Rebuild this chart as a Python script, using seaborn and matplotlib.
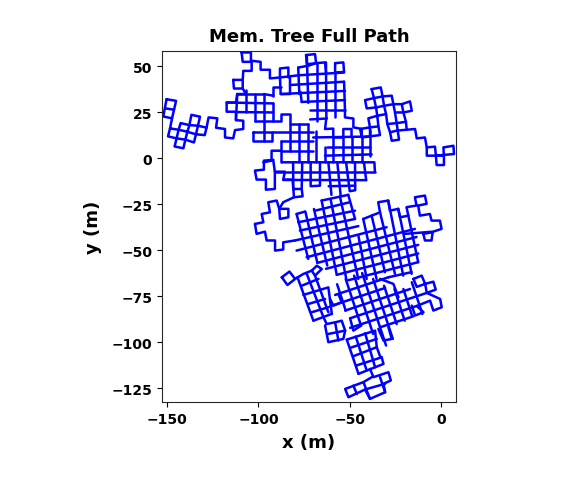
import matplotlib
matplotlib.use("Agg")
import matplotlib.pyplot as plt
import pandas as pd
import seaborn as sns

# path, each inner list is one stroke (x m, y m)
tail_path = [
    [(-150.3, 32), (-145.1, 31.1), (-147.3, 21.6), (-152.1, 22.6), (-150.3, 32)],
    [(-151, 27), (-146.2, 26.3)],
    [(-147.3, 21.6), (-148.4, 16.1), (-149.5, 11.8), (-144.8, 10.7), (-143.7, 15.4), (-148.4, 16.1)],
    [(-144.8, 10.7), (-145.9, 6.3), (-141.1, 5.3), (-140, 10), (-144.8, 10.7)],
    [(-140, 10), (-138.9, 14.3), (-143.7, 15.4), (-142.6, 19), (-137.8, 17.9), (-138.9, 14.3),
     (-134.2, 12.9), (-135.3, 8.5), (-140, 10)],
    [(-134.2, 12.9), (-133.1, 17.6), (-137.8, 17.9), (-136.7, 23.5), (-132, 22.5), (-133.1, 17.6),
     (-128.4, 16.5), (-129.4, 12.5), (-134.2, 12.9)],
    [(-128.4, 16.5), (-127.3, 22.1), (-122.5, 21.6), (-123.2, 16.5), (-118.3, 15.8), (-118.3, 11.2),
     (-113.8, 10.7), (-112.8, 15.2), (-108.3, 15.8), (-108.3, 20.3), (-112.3, 20.6), (-112.3, 25.2),
     (-117.4, 25.2), (-117.4, 30.2), (-112.3, 30.2), (-111.6, 34.8), (-106.8, 34.8)],
]

upper_branch = [
    [(-113.8, 42.5), (-108.6, 42.5), (-108.6, 37.8), (-113.4, 37.8), (-113.8, 42.5)],
    [(-108.6, 37.8), (-106.8, 34.8)],
    [(-108.6, 42.5), (-108.3, 47.4), (-103.7, 47.4), (-103.7, 52.9), (-98.8, 52.3), (-98.8, 48),
     (-93.7, 48), (-93.7, 43.3), (-88.2, 43.8)],
    [(-109.2, 57.4), (-104.1, 57.4), (-104.1, 52.3), (-108.6, 52.3), (-109.2, 57.4)],
    [(-91.9, 33.9), (-91.9, 38.9), (-87.8, 38.9)],
    [(-88.2, 43.8), (-88.2, 48.7), (-83.6, 49.2), (-83.6, 43.8)],
    [(-88.2, 43.8), (-87.8, 34.8), (-82.7, 34.8), (-82.7, 44)],
    [(-78.2, 49.2), (-72.7, 50.2), (-68.4, 51.6), (-63.5, 52), (-63, 46.5)],
    [(-78.2, 49.2), (-77.6, 34.8)],
    [(-97, 34.8), (-91.9, 33.9)],
]

block_a = [
    [(-111.6, 34.8), (-97, 34.8)],
    [(-117.4, 30.2), (-91.9, 29.7)],
    [(-112.3, 25), (-91.9, 24.8)],
    [(-111.6, 34.8), (-112.3, 20.6)],
    [(-106.8, 37), (-106.8, 24.8)],
    [(-101.9, 34.8), (-101.9, 20.3)],
    [(-97, 34.8), (-97, 9.4)],
    [(-91.9, 29.7), (-91.9, 20.3)],
    [(-101.9, 20.3), (-87.8, 20.3), (-87.8, 24), (-82.7, 24), (-82.7, 4)],
    [(-102.8, 14), (-92.8, 14), (-92.8, 9.4), (-102.8, 9.4), (-102.8, 14)],
    [(-82.7, 18.5), (-72.7, 18.5)],
    [(-92.8, 14), (-70, 14)],
    [(-87.8, 9.4), (-70, 9.4)],
    [(-77.6, 18.5), (-77.6, -2.3)],
    [(-72.7, 18.5), (-72.7, -2.3)],
    [(-87.8, 4), (-70, 4)],
    [(-87.8, 9.4), (-87.8, -2.3)],
    [(-97.3, -2.3), (-92.8, -1.4), (-92.8, 4), (-87.8, 4)],
]

block_b = [
    [(-73.9, 56), (-69, 56.5), (-68.4, 51.6), (-73.5, 51), (-73.9, 56)],
    [(-58, 51.6), (-53.5, 52), (-53.1, 46.8), (-58, 46.5), (-58, 51.6)],
    [(-88.2, 43.8), (-78, 45), (-53.1, 46.5)],
    [(-82.7, 39.7), (-53.1, 41.5)],
    [(-87.8, 34.8), (-52.6, 36.5)],
    [(-76.3, 30.5), (-52.6, 31.5)],
    [(-71.7, 26), (-52.6, 26)],
    [(-71.7, 21), (-62.5, 21.5)],
    [(-73.5, 56), (-72.7, 30)],
    [(-68, 51.6), (-68, 20.3)],
    [(-63, 52), (-62.8, 22)],
    [(-58, 46.5), (-58, 22.1)],
    [(-53.1, 41.5), (-52.6, 26)],
    [(-76.3, 30.5), (-77, 36)],
    [(-52.6, 26), (-52.6, 22.1), (-48, 21.5), (-48, 16.7), (-43.4, 15.8), (-43.4, 11.2)],
    [(-62.8, 22), (-63.5, 15.8), (-59, 16), (-59, 11.2), (-53.5, 11.2), (-53.5, 15.8), (-49, 15.8), (-49, 11.2)],
    [(-70, 11.2), (-38.9, 11.7)],
    [(-62.5, 5.8), (-38.9, 5.8)],
    [(-63.5, 1.3), (-38, 2)],
    [(-59, 11.2), (-59, -2.3)],
    [(-53.5, 11.2), (-53.5, -2.3)],
    [(-49, 11.2), (-49, -2.3)],
    [(-43.4, 11.2), (-43.4, -2.3)],
    [(-38.9, 15), (-38.9, 1.3)],
    [(-68.4, 14.5), (-68.4, -2.3)],
    [(-63.5, 6), (-63.5, -2.3)],
]

right_branch = [
    [(-38, 37.5), (-33, 38.4), (-32, 33.5), (-36.7, 32.6), (-38, 37.5)],
    [(-36.7, 32.6), (-41.6, 31.5), (-40.7, 27), (-35.6, 27.5), (-36.7, 32.6)],
    [(-32, 33.5), (-27, 33.9), (-26.1, 29.3), (-21.5, 29.3), (-20.6, 24.8), (-16, 25.7), (-17, 30.8), (-21.5, 29.3)],
    [(-35.6, 27.5), (-34.9, 23), (-30.1, 23.9), (-31.2, 28.4), (-35.6, 27.5)],
    [(-32, 33.5), (-31.2, 28.4), (-26.1, 29.3), (-25.2, 24.8), (-20.6, 24.8), (-19.2, 19.7), (-18.8, 15.4),
     (-14.2, 15.8), (-13.3, 10.7), (-8.8, 11.2), (-7.8, 5.8), (-3.3, 6.2), (-2.8, 1.3), (1.6, 1.3), (1.3, 5.8),
     (6.8, 6.7), (7.1, 2.2), (-2.8, 1.3)],
    [(-7.8, 5.8), (-7.8, 1.3), (-2.8, 1.3), (-2.4, -3.8), (1.6, -3.8), (1.6, 1.3)],
    [(-34.9, 23), (-39.8, 21.6), (-38.9, 16.7), (-34.3, 17.2), (-34.9, 23)],
    [(-38.9, 16.7), (-44.3, 15.8), (-43.4, 11.2), (-38.9, 11.8), (-38.9, 16.7)],
    [(-34.3, 17.2), (-33.4, 12.5), (-38.9, 11.8)],
    [(-30.1, 23.9), (-29.4, 18.5), (-24.3, 19), (-25.2, 24.8)],
    [(-29.4, 18.5), (-27.9, 14), (-27, 9.4), (-23, 10), (-24.3, 19), (-19.2, 19.7)],
    [(-24.3, 14.9), (-18.8, 15.4)],
    [(-27.9, 14), (-24.3, 14.9)],
]

middle_band = [
    [(-91.9, -1), (-97, -1.4), (-97, -6.3), (-101.9, -6.8), (-101, -11.7), (-95.9, -11.7), (-95.9, -17.2),
     (-91, -16.8), (-91, -7.4), (-85.5, -7.4), (-86.4, -11.7), (-81.3, -11.7), (-80.9, -16.8), (-80.5, -21.3),
     (-75.8, -20.8), (-76.3, -16.8), (-80.9, -16.8)],
    [(-91.9, -1), (-91, -7.4)],
    [(-87, -2.3), (-36.5, -2.3), (-36.2, -7.4)],
    [(-91, -7.4), (-36.2, -7.4)],
    [(-86.4, -11.9), (-41, -12)],
    [(-81, -2.3), (-80.9, -16.8)],
    [(-76, -2.3), (-76.3, -16.8)],
    [(-71.4, -2.3), (-71.4, -15.3), (-66.3, -15), (-66.3, -2.3)],
    [(-61.7, -2.3), (-60, -20)],
    [(-56.8, -2.3), (-55, -20)],
    [(-52, -2.3), (-50, -18), (-47, -17.5), (-47.1, -2.3)],
    [(-42.2, -2.3), (-41, -12)],
    [(-61.5, -15.3), (-47, -15)],
]

lower_rows = [
    [(-65.4, -23.1), (-50.8, -20)],
    [(-69, -28.6), (-49.9, -24)],
    [(-79.1, -30.4), (-74.5, -29.1)],
    [(-78.2, -34.9), (-47.1, -28.6)],
    [(-77.3, -39.4), (-47.1, -33.1)],
    [(-80, -44.8), (-45.3, -37)],
    [(-79.1, -50.3), (-29.8, -37.6)],
    [(-73.6, -53.9), (-14.3, -38.5)],
    [(-67.8, -57), (-13.4, -42.9)],
    [(-63, -60.2), (-12.5, -47.2)],
    [(-57.2, -63.5), (-12.5, -51.9)],
    [(-50.8, -66.4), (-12.5, -56.6)],
    [(-28.8, -64.8), (-16.1, -62)],
]

lower_cols = [
    [(-79.1, -30.4), (-72.7, -54.8)],
    [(-74.3, -29.1), (-67.8, -56.6)],
    [(-69.6, -27.7), (-62.3, -58.4)],
    [(-65.4, -23.1), (-57.2, -62.9)],
    [(-60.5, -22.2), (-51.7, -66.6)],
    [(-55.4, -20.8), (-45.3, -65.7)],
    [(-50.8, -20), (-47.1, -33.1)],
    [(-45.3, -42), (-40.7, -65.7)],
    [(-42.6, -33.1), (-35.3, -65.7)],
    [(-38, -31.3), (-30.7, -62)],
    [(-33.4, -29.5), (-25.2, -63)],
    [(-28.9, -23.1), (-20.7, -63.9)],
    [(-23.4, -27.6), (-16.1, -62.9)],
    [(-17.9, -31.3), (-12.5, -56.6)],
]

fringe = [
    [(-42.6, -33.1), (-38, -31.3), (-33.4, -29.5), (-34.4, -24), (-28.9, -23.1), (-28, -28.6), (-23.4, -27.6),
     (-22.5, -32.2), (-17.9, -31.3), (-18.9, -26.7), (-13.4, -25.8), (-14.3, -21.3), (-8.8, -20.4), (-7.9, -24.9),
     (-12.5, -25.8), (-11.6, -31.3), (-6.1, -30.4), (-5.2, -34), (-0.6, -34), (0.3, -38.5), (-4.3, -40), (-19.8, -41.2)],
    [(-9.7, -41.2), (-4.6, -40.3), (-5.2, -44.8), (-8.8, -44.8), (-9.7, -41.2)],
    [(-101.9, -35.8), (-97.3, -34.9), (-98.2, -30.4), (-93.7, -29.5), (-94.6, -24), (-90, -23.1), (-88.6, -27.6),
     (-83.6, -27.6), (-83.6, -32.2), (-88.2, -33.1), (-88.6, -27.6)],
    [(-101.9, -35.8), (-101, -41.2), (-96.4, -40), (-95.5, -44.8), (-90.9, -44.8), (-90.9, -50.3), (-86.4, -49.7),
     (-86.4, -45.8), (-80, -44.8)],
    [(-88.6, -27.6), (-86.4, -24), (-80.5, -21.3)],
]

left_arm = [
    [(-87.2, -64.8), (-83, -61.7), (-79.9, -65.7), (-84.1, -69), (-87.2, -64.8)],
    [(-79.9, -65.7), (-75.4, -63), (-70.8, -61.2), (-69, -63.9), (-65.3, -60.3), (-68, -58.5), (-70.8, -61.2)],
    [(-78.6, -64.8), (-69.9, -88.4)],
    [(-73.5, -63), (-64.4, -86.5)],
    [(-69, -63.9), (-61.7, -83.8)],
    [(-76.3, -69.4), (-67.1, -65.7)],
    [(-75.4, -74.4), (-61.7, -70.3), (-59.8, -84.7)],
    [(-72.6, -79.3), (-63.5, -76.6)],
    [(-70.8, -83.8), (-61.7, -81.1)],
    [(-69.9, -88.4), (-59.8, -84.7)],
    [(-64.4, -86.5), (-62.6, -90.2), (-58, -89.3), (-54.4, -88.4), (-52.5, -93.8), (-53.5, -98.3), (-61.7, -100.1),
     (-63.5, -91)],
    [(-58, -89.3), (-56.2, -99.2)],
    [(-61.7, -95.6), (-52.5, -93.8)],
]

lower_right = [
    [(-58, -74.4), (-28.8, -64.8)],
    [(-60.8, -80.6), (-30.6, -70.6)],
    [(-52.5, -82.9), (-17, -71.2)],
    [(-49.8, -87.1), (-7.8, -73.3), (-0.5, -76.6), (0.4, -81.1), (-4.2, -82.9), (-6, -77.5),
     (-13.3, -80.4), (-9.6, -83.8), (-14.2, -85.6), (-16, -80.2)],
    [(-49.8, -92.3), (-13.3, -80.4)],
    [(-33.4, -92), (-15.1, -86)],
    [(-56.9, -68.6), (-52.2, -82.9)],
    [(-52.2, -65.7), (-43.8, -91.1)],
    [(-47.6, -63.9), (-37.2, -95.6)],
    [(-43.2, -62.5), (-30.1, -101.9)],
    [(-37.2, -65.7), (-26.4, -98.3)],
    [(-31.2, -69.4), (-24.3, -90.2)],
    [(-25.5, -71.2), (-19.9, -88.4)],
    [(-20.6, -71.2), (-15.9, -85.6)],
    [(-16, -67.5), (-10.2, -84.7)],
    [(-49.8, -87.1), (-48, -93.8), (-43.8, -91.1)],
    [(-60.8, -76.6), (-58.9, -80.2), (-54.4, -78.4), (-56.2, -73.9)],
    [(-33.4, -65.7), (-26.1, -68.4), (-23.3, -75.7)],
    [(-34.3, -92.9), (-31.5, -99.2), (-27, -98.3), (-28.8, -92)],
    [(-15.1, -65.7), (-10.6, -63.9), (-8.7, -68.4), (-4.2, -67.2), (-2.9, -71.5), (-7.8, -73.3), (-8.7, -68.4),
     (-13.3, -70), (-15.1, -65.7)],
]

bottom_part = [
    [(-51.6, -98.7), (-36.1, -93.8), (-35.2, -102.8), (-33.4, -107.7), (-32.5, -108.3), (-31.5, -111.9), (-45.2, -117.3)],
    [(-49.8, -103.2), (-35.2, -98.3)],
    [(-48, -107.7), (-35.2, -102.8)],
    [(-46.5, -112.8), (-32.5, -108.3)],
    [(-51.6, -98.7), (-45.2, -117.3)],
    [(-46.7, -97), (-40.7, -115.5)],
    [(-41.6, -95.2), (-36.1, -113.7)],
    [(-38.9, -114.6), (-37, -119.1), (-31.5, -117.3), (-28.8, -116.4), (-27.5, -120.9), (-31.5, -122.7), (-30.6, -127.3),
     (-38.9, -130.9), (-41.6, -125.8), (-50.7, -130), (-52.5, -125.5), (-42.5, -121.8), (-37.9, -119.1)],
    [(-48, -123.7), (-46.1, -128.2)],
    [(-42.5, -121.8), (-38.9, -130.9)],
    [(-33.4, -119.1), (-30.6, -127.3)],
    [(-41.6, -125.8), (-30.6, -122.7)],
]

regions = [tail_path, upper_branch, block_a, block_b, right_branch, middle_band,
           lower_rows, lower_cols, fringe, left_arm, lower_right, bottom_part]

rows = []
piece = 0
for region in regions:
    for stroke in region:
        piece += 1
        for px, py in stroke:
            rows.append({"x": px, "y": py, "piece": piece})
path = pd.DataFrame(rows)

sns.set_style("ticks")
plt.rcParams["font.weight"] = "bold"
plt.rcParams["axes.linewidth"] = 0.8

fig = plt.figure(figsize=(5.74, 4.85), dpi=100)
ax = fig.add_axes([162 / 574, 1 - 403 / 485, 294 / 574, 351 / 485])
sns.lineplot(data=path, x="x", y="y", units="piece", estimator=None, sort=False,
             color="blue", linewidth=1.8, ax=ax)

ax.set_xlim(-152.8, 8.2)
ax.set_ylim(-132.6, 58.2)
ax.set_xticks([-150, -100, -50, 0])
ax.set_yticks([-125, -100, -75, -50, -25, 0, 25, 50])
ax.tick_params(labelsize=10, color="black", labelcolor="black", length=3.5, width=0.8)
ax.set_xlabel("x (m)", fontsize=13, fontweight="bold", color="black", labelpad=5)
ax.set_ylabel("y (m)", fontsize=13, fontweight="bold", color="black", labelpad=7)
ax.set_title("Mem. Tree Full Path", fontsize=13, fontweight="bold", color="black", pad=7)

plt.savefig("out.png", dpi=100)
